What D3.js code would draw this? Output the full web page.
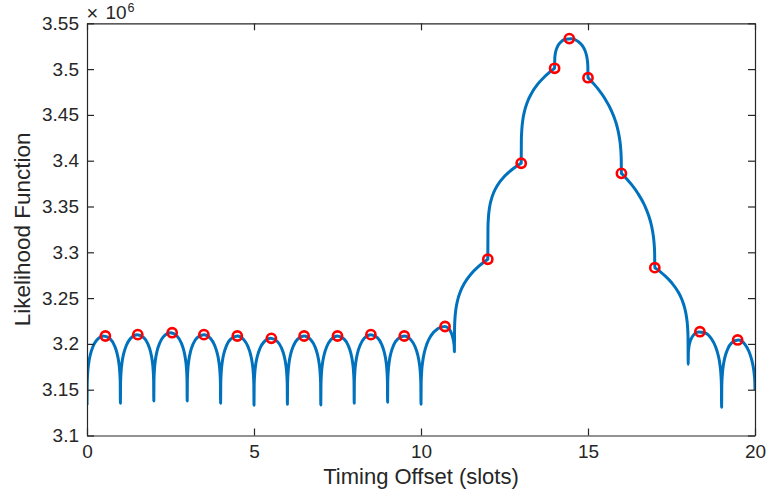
<!DOCTYPE html>
<html>
<head>
<meta charset="utf-8">
<script src="https://cdn.jsdelivr.net/npm/d3@7"></script>
<style>
  html, body { margin: 0; padding: 0; background: #ffffff; }
  svg { display: block; }
</style>
</head>
<body>
<svg id="chart" width="767" height="495"></svg>
<script>
// Likelihood versus timing offset; values are in units of 10^6.
const yExponent = 6;

// Each slot [n, n+1] of the curve is sampled at the fractions below.
const segStart = [0, 1, 2, 3, 4, 5, 6, 7, 8, 9, 10, 11, 12, 13, 14, 15, 16, 17, 18, 19];
const segFrac = [0, 0.005, 0.02, 0.05, 0.1, 0.18, 0.3, 0.5, 0.7, 0.82, 0.9, 0.95, 0.98, 0.995, 1];
const segValues = [
  [3.1333, 3.1563, 3.1680, 3.1786, 3.1882, 3.1971, 3.2045, 3.2086, 3.2052, 3.1983, 3.1897, 3.1802, 3.1697, 3.1581, 3.1351],
  [3.1351, 3.1579, 3.1695, 3.1800, 3.1896, 3.1985, 3.2058, 3.2101, 3.2069, 3.2002, 3.1917, 3.1824, 3.1720, 3.1605, 3.1377],
  [3.1377, 3.1607, 3.1724, 3.1830, 3.1925, 3.2013, 3.2084, 3.2122, 3.2084, 3.2013, 3.1925, 3.1830, 3.1724, 3.1607, 3.1377],
  [3.1377, 3.1605, 3.1720, 3.1824, 3.1917, 3.2002, 3.2069, 3.2101, 3.2058, 3.1985, 3.1896, 3.1800, 3.1695, 3.1579, 3.1351],
  [3.1351, 3.1581, 3.1698, 3.1803, 3.1898, 3.1984, 3.2052, 3.2086, 3.2044, 3.1970, 3.1881, 3.1784, 3.1678, 3.1560, 3.1330],
  [3.1330, 3.1554, 3.1668, 3.1772, 3.1865, 3.1952, 3.2022, 3.2061, 3.2026, 3.1958, 3.1873, 3.1781, 3.1678, 3.1564, 3.1340],
  [3.1340, 3.1571, 3.1689, 3.1795, 3.1891, 3.1979, 3.2049, 3.2086, 3.2046, 3.1974, 3.1885, 3.1789, 3.1682, 3.1564, 3.1333],
  [3.1333, 3.1563, 3.1680, 3.1786, 3.1882, 3.1971, 3.2045, 3.2086, 3.2052, 3.1983, 3.1897, 3.1802, 3.1697, 3.1581, 3.1351],
  [3.1351, 3.1581, 3.1698, 3.1804, 3.1900, 3.1988, 3.2061, 3.2101, 3.2066, 3.1996, 3.1909, 3.1815, 3.1709, 3.1593, 3.1363],
  [3.1363, 3.1590, 3.1705, 3.1808, 3.1901, 3.1986, 3.2053, 3.2086, 3.2044, 3.1971, 3.1883, 3.1788, 3.1683, 3.1567, 3.1340],
  [3.1340, 3.1575, 3.1696, 3.1805, 3.1906, 3.2003, 3.2090, 3.2165, 3.2190, 3.2172, 3.2126, 3.2072, 3.2017, 3.1967, 3.1915],
  [3.1915, 3.2183, 3.2294, 3.2392, 3.2482, 3.2572, 3.2662, 3.2764, 3.2838, 3.2875, 3.2898, 3.2911, 3.2919, 3.2923, 3.2924],
  [3.2924, 3.3269, 3.3385, 3.3483, 3.3570, 3.3655, 3.3738, 3.3830, 3.3896, 3.3929, 3.3949, 3.3961, 3.3968, 3.3971, 3.3972],
  [3.3972, 3.4234, 3.4347, 3.4448, 3.4542, 3.4636, 3.4730, 3.4838, 3.4917, 3.4957, 3.4981, 3.4995, 3.5004, 3.5008, 3.5009],
  [3.5009, 3.5113, 3.5166, 3.5213, 3.5256, 3.5294, 3.5323, 3.5331, 3.5303, 3.5261, 3.5211, 3.5157, 3.5098, 3.5033, 3.4906],
  [3.4906, 3.4904, 3.4899, 3.4887, 3.4868, 3.4836, 3.4784, 3.4681, 3.4547, 3.4435, 3.4328, 3.4228, 3.4128, 3.4025, 3.3862],
  [3.3862, 3.3860, 3.3855, 3.3844, 3.3825, 3.3793, 3.3741, 3.3640, 3.3508, 3.3397, 3.3292, 3.3193, 3.3094, 3.2993, 3.2832],
  [3.2832, 3.2831, 3.2827, 3.2819, 3.2806, 3.2783, 3.2746, 3.2670, 3.2567, 3.2476, 3.2384, 3.2291, 3.2190, 3.2073, 3.1777],
  [3.1777, 3.1899, 3.1961, 3.2016, 3.2064, 3.2105, 3.2131, 3.2120, 3.2053, 3.1969, 3.1874, 3.1773, 3.1664, 3.1544, 3.1308],
  [3.1308, 3.1538, 3.1655, 3.1760, 3.1855, 3.1942, 3.2010, 3.2043, 3.1995, 3.1917, 3.1829, 3.1743, 3.1659, 3.1582, 3.1497]
];

// Marked points (red circles).
const markX = [0.55, 1.52, 2.55, 3.5, 4.5, 5.52, 6.5, 7.5, 8.5, 9.5, 10.72, 12, 13, 14, 14.44, 15, 16, 17, 18.35, 19.48];
const markY = [3.2086, 3.2101, 3.2122, 3.2101, 3.2086, 3.2061, 3.2086, 3.2086, 3.2101, 3.2086,
               3.2190, 3.2924, 3.3972, 3.5009, 3.5333, 3.4906, 3.3862, 3.2832, 3.2133, 3.2043];

// Axis ticks and labels.
const xTicks = [0, 5, 10, 15, 20];
const yTicks = [3.1, 3.15, 3.2, 3.25, 3.3, 3.35, 3.4, 3.45, 3.5, 3.55];
const xLabel = "Timing Offset (slots)";
const yLabel = "Likelihood Function";

const svg = d3.select("#chart");
const W = 767, H = 495;
const plot = { left: 87, right: 755, top: 23.3, bottom: 435.5 };
const ink = "#262626";
const font = "'Liberation Sans', Arial, Helvetica, sans-serif";

svg.append("rect").attr("width", W).attr("height", H).attr("fill", "#ffffff");

const x = d3.scaleLinear().domain([0, 20]).range([plot.left, plot.right]);
const y = d3.scaleLinear().domain([3.1, 3.55]).range([plot.bottom, plot.top]);

// Build the curve points slot by slot, skipping the shared end points.
const curve = [];
segStart.forEach((s, k) => {
  segValues[k].forEach((v, i) => {
    const px = s + segFrac[i];
    if (curve.length && Math.abs(curve[curve.length - 1][0] - px) < 1e-9) return;
    curve.push([px, v]);
  });
});

const clipId = "plotClip";
svg.append("clipPath").attr("id", clipId)
  .append("rect")
  .attr("x", plot.left).attr("y", plot.top - 10)
  .attr("width", plot.right - plot.left).attr("height", plot.bottom - plot.top + 10);

const line = d3.line()
  .x(d => x(d[0]))
  .y(d => y(d[1]))
  .curve(d3.curveMonotoneX);

svg.append("path")
  .datum(curve)
  .attr("clip-path", `url(#${clipId})`)
  .attr("fill", "none")
  .attr("stroke", "#0072BD")
  .attr("stroke-width", 3)
  .attr("stroke-linejoin", "round")
  .attr("d", line);

svg.append("g")
  .selectAll("circle")
  .data(markX.map((mx, i) => [mx, markY[i]]))
  .join("circle")
  .attr("cx", d => x(d[0]))
  .attr("cy", d => y(d[1]))
  .attr("r", 4.6)
  .attr("fill", "none")
  .attr("stroke", "#FF0000")
  .attr("stroke-width", 2.6);

// Axes: box with inward ticks on all four sides.
const fmt = d => String(+d.toFixed(2));
const tickLen = 7;

function styleAxis(g, showText) {
  g.select(".domain").attr("stroke", ink).attr("stroke-width", 1.2);
  g.selectAll(".tick line").attr("stroke", ink).attr("stroke-width", 1.2);
  g.selectAll(".tick text")
    .attr("fill", ink)
    .style("font-family", font)
    .style("font-size", "19px");
  if (!showText) g.selectAll(".tick text").remove();
  g.attr("font-family", null).attr("font-size", null);
}

svg.append("g")
  .attr("transform", `translate(0,${plot.bottom})`)
  .call(d3.axisBottom(x).tickValues(xTicks).tickFormat(fmt)
    .tickSizeInner(-tickLen).tickSizeOuter(0).tickPadding(9))
  .call(g => styleAxis(g, true));

svg.append("g")
  .attr("transform", `translate(0,${plot.top})`)
  .call(d3.axisTop(x).tickValues(xTicks).tickSizeInner(-tickLen).tickSizeOuter(0))
  .call(g => styleAxis(g, false));

svg.append("g")
  .attr("transform", `translate(${plot.left},0)`)
  .call(d3.axisLeft(y).tickValues(yTicks).tickFormat(fmt)
    .tickSizeInner(-tickLen).tickSizeOuter(0).tickPadding(8))
  .call(g => styleAxis(g, true));

svg.append("g")
  .attr("transform", `translate(${plot.right},0)`)
  .call(d3.axisRight(y).tickValues(yTicks).tickSizeInner(-tickLen).tickSizeOuter(0))
  .call(g => styleAxis(g, false));

// Axis titles.
svg.append("text")
  .attr("x", (plot.left + plot.right) / 2)
  .attr("y", 484)
  .attr("text-anchor", "middle")
  .attr("fill", ink)
  .style("font-family", font)
  .style("font-size", "22px")
  .text(xLabel);

svg.append("text")
  .attr("transform", `translate(29.5,${(plot.top + plot.bottom) / 2}) rotate(-90)`)
  .attr("text-anchor", "middle")
  .attr("fill", ink)
  .style("font-family", font)
  .style("font-size", "22.5px")
  .text(yLabel);

// Exponent marker above the y axis: "×10" with a raised power.
svg.append("text")
  .attr("x", 86.5)
  .attr("y", 19.5)
  .attr("fill", ink)
  .style("font-family", font)
  .style("font-size", "20px")
  .text("\u00D7");
svg.append("text")
  .attr("x", 105.5)
  .attr("y", 19)
  .attr("fill", ink)
  .style("font-family", font)
  .style("font-size", "19px")
  .text("10");
svg.append("text")
  .attr("x", 127.5)
  .attr("y", 11.5)
  .attr("fill", ink)
  .style("font-family", font)
  .style("font-size", "12.5px")
  .text(String(yExponent));
</script>
</body>
</html>
